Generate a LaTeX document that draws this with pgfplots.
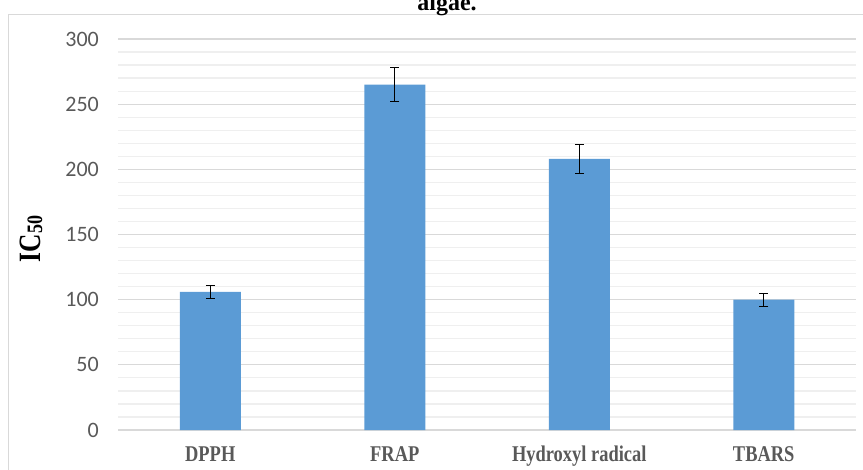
\documentclass[border=0pt]{standalone}
\usepackage{pgfplots}
\pgfplotsset{compat=1.18}
\usepackage{fontspec}
\setmainfont{Carlito}
\newfontface\lblfont[FakeStretch=0.82]{Liberation Serif Bold}
\newfontface\titlefont{Liberation Serif Bold}
\definecolor{barblue}{HTML}{5B9BD5}
\definecolor{tickgray}{HTML}{595959}
\definecolor{majgrid}{HTML}{D9D9D9}
\definecolor{mingrid}{HTML}{EFEFEF}
\pgfplotstableread{
x y err
0 106 5
1 265 13
2 208 11
3 100 5
}\datatable
\begin{document}
\begin{tikzpicture}[x=1pt,y=1pt]
\useasboundingbox (0,0) rectangle (863,-470);
\clip (0,0) rectangle (863,-470);
\draw[majgrid, line width=1.4pt] (8.5,-480) -- (8.5,-14.5) -- (875,-14.5);
\node[font=\titlefont\fontsize{24}{28}\selectfont, anchor=base, inner sep=0pt] at (447,-11) {algae.};
\begin{axis}[
  at={(118pt,-430pt)}, anchor=south west,
  scale only axis, width=738pt, height=391pt,
  xmin=-0.5, xmax=3.5, ymin=0, ymax=300,
  ytick={0,50,...,300}, minor y tick num=4,
  ymajorgrids, yminorgrids,
  major grid style={majgrid, line width=1.2pt},
  minor grid style={mingrid, line width=1.2pt},
  axis line style={draw=none},
  major tick length=0pt, minor tick length=0pt,
  xtick={0,1,2,3},
  xticklabels={DPPH,FRAP,Hydroxyl radical,TBARS},
  xticklabel style={font=\lblfont\fontsize{22.5}{26}\selectfont, text=tickgray, anchor=base, inner sep=0pt, yshift=-31.7pt},
  yticklabel style={font=\fontsize{22}{26}\selectfont, text=tickgray, anchor=east, inner sep=0pt, xshift=-19pt},
  /pgf/number format/assume math mode=true,
  clip=false,
]
\addplot[ybar, bar width=61pt, fill=barblue, draw=none,
  error bars/.cd, y dir=both, y explicit,
  error bar style={black, line width=1pt},
  error mark options={rotate=90, mark size=4.5pt, black, line width=1pt}]
  table[x=x, y=y, y error=err] {\datatable};
\end{axis}
\node[rotate=90, inner sep=0pt] at (31,-239) {\lblfont\fontsize{31}{34}\selectfont IC\raisebox{-2pt}{\fontsize{22}{24}\selectfont 50}};
\end{tikzpicture}
\end{document}
